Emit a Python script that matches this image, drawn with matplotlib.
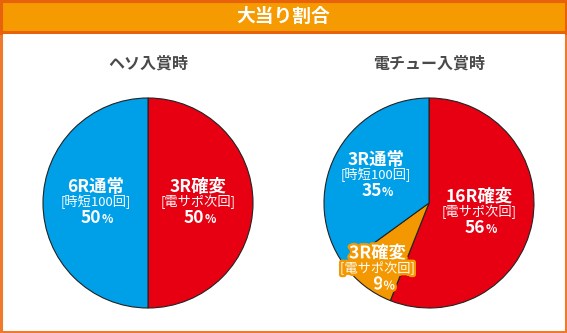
import numpy as np
import matplotlib.pyplot as plt
import matplotlib.patheffects as pe
from matplotlib.patches import Rectangle

plt.rcParams['font.family'] = ['Noto Sans CJK JP', 'DejaVu Sans']

title = "大当り割合"

# ヘソ入賞時
heso_title = "ヘソ入賞時"
heso_names = ["3R確変", "6R通常"]
heso_notes = ["[電サポ次回]", "[時短100回]"]
heso_pct = [50, 50]

# 電チュー入賞時
den_title = "電チュー入賞時"
den_names = ["16R確変", "3R確変", "3R通常"]
den_notes = ["[電サポ次回]", "[電サポ次回]", "[時短100回]"]
den_pct = [56, 9, 35]

RED = "#e60012"
BLUE = "#00a0e9"
ORANGE = "#f39800"
W, H = 567, 333

fig = plt.figure(figsize=(W / 100, H / 100), dpi=100)
ax = fig.add_axes([0, 0, 1, 1])
ax.set_xlim(0, W)
ax.set_ylim(0, H)
ax.axis("off")

# header bar and frame
ax.add_patch(Rectangle((0, H - 32), W, 32, facecolor="#f59a00", edgecolor="none"))
ax.plot([0, W], [H - 32, H - 32], color="#e8620c", lw=2.2)
ax.add_patch(Rectangle((1, 1), W - 2, H - 2, facecolor="none", edgecolor="#ef7a2c", lw=2.2))
ax.plot([1, 1], [H - 33, H - 1], color="#e8620c", lw=2.2)
ax.plot([W - 1, W - 1], [H - 33, H - 1], color="#e8620c", lw=2.2)
ax.plot([0, W], [H - 1, H - 1], color="#e8620c", lw=2.2)
ax.text(W / 2, H - 16, title, color="white", fontsize=13.5, fontweight="bold",
        ha="center", va="center")


def draw_pie(cx, cy, r, sub, names, notes, pct, colors, dists, outline):
    ax.text(cx, H - 64, sub, color="#4a4a4a", fontsize=11.5, fontweight="bold",
            ha="center", va="center")
    wedges, _ = ax.pie(pct, colors=colors, startangle=90, counterclock=False,
                       center=(cx, H - cy), radius=r,
                       wedgeprops=dict(edgecolor="#222222", linewidth=0.8))
    for w, name, note, p, d, ol in zip(wedges, names, notes, pct, dists, outline):
        ang = np.deg2rad((w.theta1 + w.theta2) / 2)
        x = cx + d * r * np.cos(ang)
        y = H - cy + d * r * np.sin(ang)
        fx = [pe.withStroke(linewidth=3.5, foreground=ORANGE)] if ol else None
        ax.text(x, y + 16, name, color="white", fontsize=12.5, fontweight="bold",
                ha="center", va="center", path_effects=fx)
        ax.text(x, y + 1, note, color="white", fontsize=9.5,
                ha="center", va="center", path_effects=fx)
        ax.text(x + 6, y - 15, str(p), color="white", fontsize=12.5, fontweight="bold",
                ha="right", va="center", path_effects=fx)
        ax.text(x + 6, y - 16.5, "%", color="white", fontsize=8.5, fontweight="bold",
                ha="left", va="center", path_effects=fx)


draw_pie(148, 203, 105, heso_title, heso_names, heso_notes, heso_pct,
         [RED, BLUE], [0.48, 0.5], [False, False])
draw_pie(429, 203, 105, den_title, den_names, den_notes, den_pct,
         [RED, ORANGE, BLUE], [0.49, 0.8, 0.57], [False, True, False])

ax.set_xlim(0, W)
ax.set_ylim(0, H)
fig.savefig("out.png", dpi=100)
